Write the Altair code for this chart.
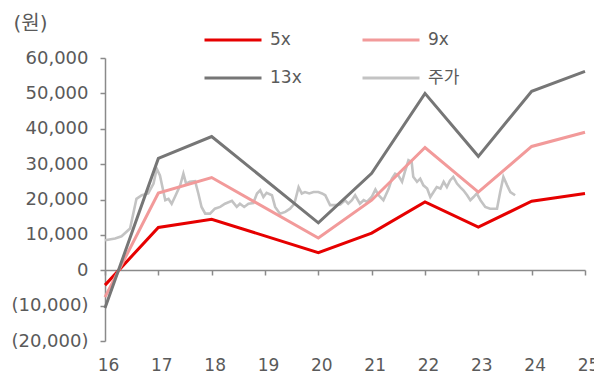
import altair as alt
import pandas as pd

# Target-price bands by P/B multiple (won), year-end points
band_years = [16, 17, 18, 20, 21, 22, 23, 24, 25]
band_5x = [-4200, 12100, 14400, 5000, 10500, 19300, 12200, 19500, 21700]
band_9x = [-7600, 21800, 26200, 9100, 19800, 34700, 22100, 35000, 39000]
band_13x = [-10700, 31600, 37800, 13400, 27400, 50000, 32200, 50600, 56200]

# Share price (won), time as fractional year
price_t = [16.00, 16.19, 16.31, 16.47, 16.59, 16.69, 16.81, 16.91, 16.97, 17.03,
           17.13, 17.19, 17.25, 17.31, 17.41, 17.47, 17.52, 17.59, 17.69, 17.75,
           17.81, 17.88, 17.97, 18.06, 18.16, 18.25, 18.38, 18.47, 18.53, 18.61,
           18.69, 18.78, 18.85, 18.91, 18.97, 19.03, 19.13, 19.19, 19.28, 19.38,
           19.47, 19.55, 19.63, 19.69, 19.75, 19.83, 19.91, 20.00, 20.07, 20.13,
           20.22, 20.32, 20.41, 20.50, 20.56, 20.63, 20.69, 20.78, 20.85, 20.91,
           21.00, 21.07, 21.13, 21.22, 21.32, 21.38, 21.44, 21.50, 21.57, 21.63,
           21.69, 21.75, 21.78, 21.85, 21.91, 21.97, 22.04, 22.10, 22.16, 22.22,
           22.29, 22.35, 22.41, 22.47, 22.53, 22.60, 22.66, 22.72, 22.79, 22.85,
           22.91, 22.97, 23.04, 23.13, 23.22, 23.35, 23.41, 23.47, 23.54, 23.60,
           23.69]
price_v = [8500, 9000, 9600, 11800, 20200, 21200, 21700, 24500, 28700, 26800,
           19800, 20200, 18800, 20700, 24000, 27300, 24500, 25000, 25200, 21700,
           17900, 16000, 16000, 17400, 17900, 18800, 19600, 17900, 18800, 17900,
           18800, 19000, 21700, 22600, 20700, 21900, 21200, 17900, 16000, 16500,
           17400, 18800, 23500, 21700, 22100, 21700, 22100, 22100, 21700, 21200,
           18400, 18400, 18600, 19800, 18800, 19800, 21200, 18800, 19800, 19300,
           20700, 22800, 21200, 19800, 23100, 25900, 27300, 26800, 25000, 28200,
           31100, 30600, 26400, 25000, 25900, 24000, 23100, 20700, 22100, 23500,
           23100, 25000, 23500, 25400, 26400, 24500, 23500, 22600, 21200, 19800,
           20700, 21700, 19800, 17900, 17400, 17400, 22100, 26400, 24000, 22100,
           21200]

series_names = ["5x", "9x", "13x", "주가"]
series_colors = ["#e60000", "#f29a9a", "#767676", "#c3c3c3"]
year_ticks = list(range(16, 26))

bands = pd.concat([
    pd.DataFrame({"t": band_years, "v": vals, "s": name})
    for name, vals in [("5x", band_5x), ("9x", band_9x), ("13x", band_13x)]
])
price = pd.DataFrame({"t": price_t, "v": price_v, "s": "주가"})

text_color = "#5a5a5a"
axis_color = "#8a8a8a"
font = "DejaVu Sans"
font_kr = "DejaVu Sans, Noto Sans CJK KR"

color = alt.Color(
    "s:N",
    scale=alt.Scale(domain=series_names, range=series_colors),
    legend=alt.Legend(
        title=None, orient="none", legendX=98, legendY=-48, columns=2,
        direction="horizontal",
        symbolType="stroke", symbolSize=3249, symbolStrokeWidth=3,
        labelFont=font_kr, labelFontSize=17,
        labelColor=text_color, labelOffset=7,
        columnPadding=54, rowPadding=-23, padding=0,
    ),
)

x = alt.X(
    "t:Q",
    scale=alt.Scale(domain=[16, 25], nice=False, zero=False),
    axis=alt.Axis(
        title=None, values=year_ticks, format="d", grid=False,
        offset=-71, tickSize=5, labelPadding=82, labelOffset=3,
        labelFont=font, labelFontSize=17, labelColor=text_color,
        domainColor=axis_color, tickColor=axis_color,
        domainWidth=1.5, tickWidth=1.5, labelFlush=False,
    ),
)

y = alt.Y(
    "v:Q",
    scale=alt.Scale(domain=[-20000, 60000], nice=False),
    axis=alt.Axis(
        title="(원)", titleAngle=0, titleAlign="left", titleBaseline="middle",
        titleX=-92, titleY=-35, titleFont=font_kr,
        titleFontSize=20, titleFontWeight="normal", titleColor=text_color,
        values=list(range(-20000, 60001, 10000)), grid=False,
        tickSize=5, labelPadding=12,
        labelExpr="datum.value < 0 ? '(' + format(-datum.value, ',') + ')' : format(datum.value, ',') + '\u00a0'",
        labelFont=font, labelFontSize=18, labelColor=text_color,
        domainColor=axis_color, tickColor=axis_color,
        domainWidth=1.5, tickWidth=1.5,
    ),
)

price_line = alt.Chart(price).mark_line(strokeWidth=2.6).encode(
    x=x, y=y, color=color, order="t:Q"
)
band_lines = alt.Chart(bands).mark_line(strokeWidth=3).encode(
    x=x, y=y, color=color, order="t:Q"
)

chart = (
    alt.layer(price_line, band_lines)
    .properties(
        width=480, height=283,
        autosize=alt.AutoSizeParams(type="none"),
        padding={"left": 105, "top": 58, "right": 9, "bottom": 32},
        background="white",
    )
    .configure_view(stroke=None)
)

chart.save("out.html", embed_options={"renderer": "svg", "actions": False})
